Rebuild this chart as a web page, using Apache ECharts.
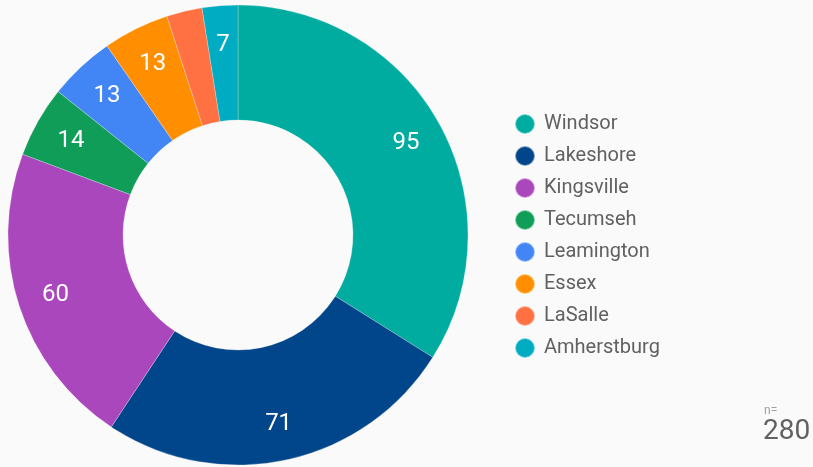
<!DOCTYPE html>
<html>
<head>
<meta charset="utf-8">
<script src="https://cdn.jsdelivr.net/npm/echarts@6/dist/echarts.min.js"></script>
<style>
  html, body { margin: 0; padding: 0; background: #fafafa; }
  #chart { width: 813px; height: 467px; }
</style>
</head>
<body>
<div id="chart"></div>
<script>
var towns = ['Windsor', 'Lakeshore', 'Kingsville', 'Tecumseh', 'Leamington', 'Essex', 'LaSalle', 'Amherstburg'];
var counts = [95, 71, 60, 14, 13, 13, 7, 7];
var colors = ['#00ab9f', '#01458a', '#ab47bc', '#0f9d58', '#4285f4', '#ff8f00', '#ff7043', '#00acc1'];
var hiddenLabels = ['LaSalle'];
var total = 280;

var myChart = echarts.init(document.getElementById('chart'));

var pieData = [];
var labelData = [];
for (var i = 0; i < towns.length; i++) {
    pieData.push({ name: towns[i], value: counts[i], itemStyle: { color: colors[i] } });
    var lab = { name: towns[i], value: counts[i] };
    if (hiddenLabels.indexOf(towns[i]) >= 0) {
        lab.label = { show: false };
    }
    labelData.push(lab);
}

var option = {
    backgroundColor: '#fafafa',
    animation: false,
    legend: {
        orient: 'vertical',
        left: 509,
        top: 108,
        itemWidth: 20,
        itemHeight: 20,
        itemGap: 10,
        icon: 'circle',
        data: towns,
        textStyle: {
            fontFamily: 'Roboto',
            fontSize: 20,
            lineHeight: 20,
            color: '#616161',
            padding: [0, 0, 0, 4]
        }
    },
    graphic: [
        {
            type: 'text',
            left: 764,
            top: 405,
            style: { text: 'n=', fontFamily: 'Roboto', fontSize: 12, fill: '#9e9e9e' }
        },
        {
            type: 'text',
            left: 763,
            top: 418,
            style: { text: String(total), fontFamily: 'Roboto', fontSize: 28, fill: '#616161' }
        }
    ],
    series: [
        {
            type: 'pie',
            center: [238, 235],
            radius: [115, 230],
            startAngle: 90,
            clockwise: true,
            itemStyle: {
                borderColor: 'rgba(255,255,255,0.5)',
                borderWidth: 0.5
            },
            label: { show: false },
            labelLine: { show: false },
            emphasis: { disabled: true },
            data: pieData
        },
        {
            // invisible label ring: puts the values further out than the slice middle
            type: 'pie',
            center: [238, 236],
            radius: [148, 230],
            startAngle: 90,
            clockwise: true,
            silent: true,
            z: 3,
            itemStyle: { color: 'rgba(0,0,0,0)' },
            label: {
                show: true,
                position: 'inside',
                formatter: '{c}',
                color: '#ffffff',
                fontFamily: 'Roboto',
                fontSize: 24
            },
            labelLine: { show: false },
            emphasis: { disabled: true },
            data: labelData
        }
    ]
};

myChart.setOption(option);
</script>
</body>
</html>
